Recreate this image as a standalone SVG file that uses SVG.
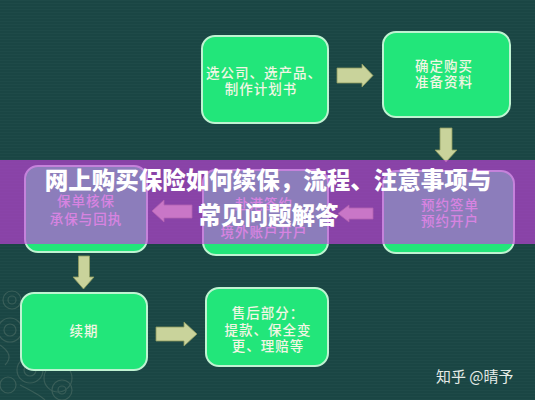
<svg xmlns="http://www.w3.org/2000/svg" width="535" height="400" viewBox="0 0 535 400">
  <defs>
    <style>
      .node rect { fill: #22e67a; stroke: #bff3d2; stroke-width: 2; }
      .node text { font-family: "Noto Sans CJK SC", "Noto Sans", sans-serif; font-size: 13.5px; font-weight: 500; fill: #f2f6e4; text-anchor: middle; letter-spacing: 1px; }
      .arrow { fill: #c9d39b; stroke: #8e9a5e; stroke-width: 0.8; }
      .title { font-family: "Noto Sans CJK SC", "Noto Sans", sans-serif; font-size: 23.5px; font-weight: 900; fill: #ffffff; text-anchor: middle; }
      .wm { font-family: "Noto Sans CJK SC", "Noto Sans", sans-serif; font-size: 15px; fill: #e6ece8; }
      .decor { fill: none; stroke: #5d7a70; stroke-width: 1.2; opacity: 0.45; }
    </style>
    <pattern id="lines" width="4" height="3" patternUnits="userSpaceOnUse">
      <rect width="4" height="1" fill="#214f4d"/>
    </pattern>
  </defs>

  <rect x="0" y="0" width="535" height="400" fill="#1a4644"/>
  <rect x="0" y="0" width="535" height="400" fill="url(#lines)" opacity="0.5"/>

  <g id="decor" class="decor">
    <circle cx="12" cy="300" r="9"/>
    <circle cx="12" cy="300" r="4"/>
    <circle cx="10" cy="330" r="12"/>
    <circle cx="10" cy="330" r="6"/>
    <circle cx="30" cy="370" r="13"/>
    <circle cx="30" cy="370" r="6"/>
    <circle cx="62" cy="390" r="10"/>
    <circle cx="62" cy="390" r="4"/>
    <circle cx="8" cy="385" r="8"/>
    <circle cx="58" cy="378" r="14"/>
    <path d="M0 345 Q15 355 5 365 M20 385 Q40 395 45 400"/>
  </g>

  <g id="connectors">
    <path class="arrow" d="M337 68 H362 V64 L373 75.5 L362 87 V83 H337 Z"/>
    <path class="arrow" d="M440 128 H452 V150 H457 L446 162 L435 150 H440 Z"/>
    <path class="arrow" d="M373 208 H349 V205 L338 213.5 L349 222 V219 H373 Z"/>
    <path class="arrow" d="M192 205 H164 V200 L152 211 L164 222 V218 H192 Z"/>
    <path class="arrow" d="M78.5 256 H89.5 V277 H94 L83.5 289 L73 277 H78.5 Z"/>
    <path class="arrow" d="M156 327 H184 V322 L197 334 L184 346 V341 H156 Z"/>
  </g>

  <g id="node1" class="node">
    <rect x="202" y="36" width="126" height="87" rx="13"/>
    <text x="264" y="78">选公司、选产品、</text>
    <text x="261" y="94">制作计划书</text>
  </g>
  <g id="node2" class="node">
    <rect x="383" y="32" width="127" height="85" rx="13"/>
    <text x="444" y="71">确定购买</text>
    <text x="444" y="87">准备资料</text>
  </g>
  <g id="node3" class="node">
    <rect x="383" y="171" width="131" height="82" rx="13"/>
    <text x="450" y="210">预约签单</text>
    <text x="450" y="226">预约开户</text>
  </g>
  <g id="node4" class="node">
    <rect x="203" y="170" width="125" height="85" rx="13"/>
    <text x="264" y="209">赴港签约</text>
    <text x="264" y="237">境外账户开户</text>
  </g>
  <g id="node5" class="node">
    <rect x="25" y="166" width="122" height="86" rx="13"/>
    <text x="86" y="206">保单核保</text>
    <text x="86" y="224">承保与回执</text>
  </g>
  <g id="node6" class="node">
    <rect x="21" y="293" width="126" height="77" rx="13"/>
    <text x="84" y="336">续期</text>
  </g>
  <g id="node7" class="node">
    <rect x="206" y="288" width="122" height="78" rx="13"/>
    <text x="268" y="318">售后部分：</text>
    <text x="268" y="335">提款、保全变</text>
    <text x="268" y="351">更、理赔等</text>
  </g>

  <rect x="0" y="160" width="535" height="84" fill="#c942df" opacity="0.64"/>
  <text class="title" x="268" y="189">网上购买保险如何续保，流程、注意事项与</text>
  <text class="title" x="268" y="224">常见问题解答</text>

  <text class="wm" x="436" y="382">知乎 @晴予</text>
</svg>
